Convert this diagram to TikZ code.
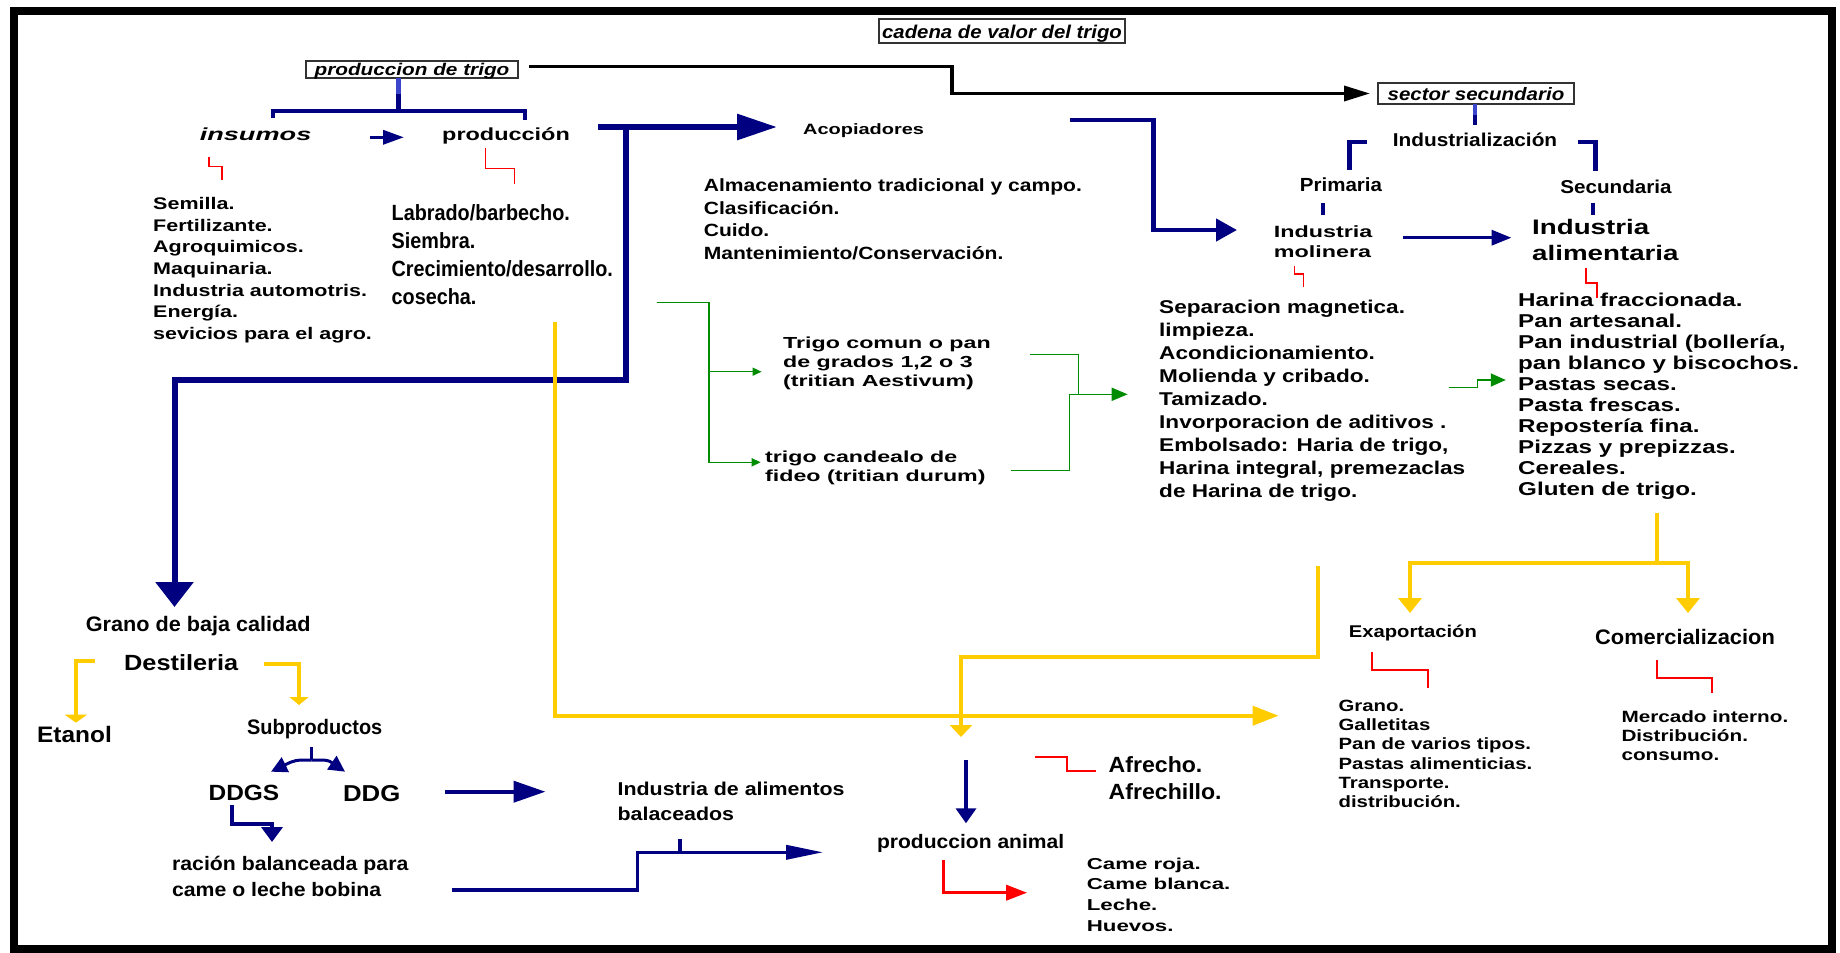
\documentclass[tikz,border=0pt]{standalone}
\usepackage{fontspec}
\setmainfont{Liberation Sans}
\usetikzlibrary{arrows.meta}
\definecolor{nv}{RGB}{0,0,128}
\definecolor{nvl}{RGB}{60,70,205}
\definecolor{yl}{RGB}{255,204,0}
\definecolor{gr}{RGB}{0,140,0}
\definecolor{rd}{RGB}{255,0,0}
% size, baselineskip, horizontal stretch
\newcommand\fz[3]{\fontsize{#1pt}{#2pt}\selectfont\addfontfeatures{FakeStretch=#3}}
% left aligned lines with a fixed baseline distance; baseline = first line
\newcommand\stk[2]{\vtop{\baselineskip=#1pt\lineskiplimit=-100pt\lineskip=0pt\halign{##\hfil\cr#2\crcr}}}
\tikzset{
  lbl/.style={inner sep=0pt, anchor=base west},
  lblc/.style={inner sep=0pt, anchor=base},
  tbox/.style={draw=black!80, line width=1.2pt, inner sep=0pt},
  tip/.style 2 args={-{Triangle[length=#1pt,width=#2pt]}},
  blk/.style={draw=black, line width=3.5pt},
  blu/.style={draw=nv, line width=#1pt},
  ylw/.style={draw=yl, line width=4pt},
  grn/.style={draw=gr, line width=1.5pt},
  red/.style={draw=rd, line width=#1pt},
}
\begin{document}
\begin{tikzpicture}[x=1pt,y=-1pt]
\useasboundingbox (0,0) rectangle (1840,953);
\draw[line width=8pt] (14,11) rectangle (1832,949);

% ---------- boxed titles ----------
\node[tbox, minimum width=246pt, minimum height=24pt, text height=17pt, text depth=2.5pt,
      font=\bfseries\itshape\fz{18.5}{22}{1.1}] (cadena) at (1002,31) {cadena de valor del trigo};
\node[tbox, minimum width=212pt, minimum height=17pt, text height=14.5pt, text depth=2.5pt,
      font=\bfseries\itshape\fz{17}{20}{1.22}] (prod) at (412,69.5) {produccion de trigo};
\node[tbox, minimum width=196pt, minimum height=21pt, text height=15.5pt, text depth=2.5pt,
      font=\bfseries\itshape\fz{18}{21}{1.14}] (sector) at (1476,93.5) {sector secundario};

% ---------- primary production ----------
\node[lbl, font=\bfseries\itshape\fz{17.5}{20}{1.55}] (insumos) at (199.6,140) {insumos};
\node[lbl, font=\bfseries\fz{17.5}{20}{1.34}] (produc) at (442,140) {producción};
\node[lbl, font=\bfseries\fz{16.8}{21.7}{1.28}] (inslist) at (153,209.3)
  {\stk{21.7}{Semilla.\cr Fertilizante.\cr Agroquimicos.\cr Maquinaria.\cr Industria automotris.\cr Energía.\cr sevicios para el agro.}};
\node[lbl, font=\bfseries\fz{22}{27.8}{0.9}] (prodlist) at (391.5,220.7)
  {\stk{27.8}{Labrado/barbecho.\cr Siembra.\cr Crecimiento/desarrollo.\cr cosecha.}};

% ---------- storage ----------
\node[lbl, font=\bfseries\fz{15}{18}{1.33}] (acop) at (803,134) {Acopiadores};
\node[lbl, font=\bfseries\fz{17.7}{22.5}{1.19}] (acoplist) at (703.6,191.7)
  {\stk{22.5}{Almacenamiento tradicional y campo.\cr Clasificación.\cr Cuido.\cr Mantenimiento/Conservación.}};
\node[lbl, font=\bfseries\fz{16}{19}{1.45}] (comun) at (783,348.3)
  {\stk{19}{Trigo comun o pan\cr de grados 1,2 o 3\cr (tritian Aestivum)}};
\node[lbl, font=\bfseries\fz{16}{19}{1.45}] (candeal) at (765,462.7)
  {\stk{19}{trigo candealo de\cr fideo (tritian durum)}};

% ---------- industry ----------
\node[lblc, font=\bfseries\fz{18.6}{22}{1.12}] (indus) at (1475,146.7) {Industrialización};
\node[lblc, font=\bfseries\fz{19}{22}{1.08}] (prim) at (1341,191.7) {Primaria};
\node[lblc, font=\bfseries\fz{18.6}{22}{1.11}] (secu) at (1616,193) {Secundaria};
\node[lbl, font=\bfseries\fz{16.3}{20.3}{1.43}] (molin) at (1273.7,237)
  {\stk{20.3}{Industria\cr molinera}};
\node[lbl, font=\bfseries\fz{21}{25.7}{1.32}] (alim) at (1532,234.3)
  {\stk{25.7}{Industria\cr alimentaria}};
\node[lbl, font=\bfseries\fz{18.5}{23}{1.22}] (mollist) at (1159,313)
  {\stk{23}{Separacion magnetica.\cr limpieza.\cr Acondicionamiento.\cr Molienda y cribado.\cr Tamizado.\cr Invorporacion de aditivos .\cr Embolsado: Haria de trigo,\cr Harina integral, premezaclas\cr de Harina de trigo.}};
\node[lbl, font=\bfseries\fz{18.6}{21}{1.3}] (alimlist) at (1518,306.7)
  {\stk{21}{Harina fraccionada.\cr Pan artesanal.\cr Pan industrial (bollería,\cr pan blanco y biscochos.\cr Pastas secas.\cr Pasta frescas.\cr Repostería fina.\cr Pizzas y prepizzas.\cr Cereales.\cr Gluten de trigo.}};

% ---------- markets ----------
\node[lbl, font=\bfseries\fz{17}{20}{1.19}] (expo) at (1348.6,637.3) {Exaportación};
\node[lbl, font=\bfseries\fz{21}{24}{1.04}] (comer) at (1595,644.3) {Comercializacion};
\node[lbl, font=\bfseries\fz{16.3}{19.1}{1.25}] (expolist) at (1338.4,711.7)
  {\stk{19.1}{Grano.\cr Galletitas\cr Pan de varios tipos.\cr Pastas alimenticias.\cr Transporte.\cr distribución.}};
\node[lbl, font=\bfseries\fz{16.3}{19}{1.27}] (comerlist) at (1621.3,722.7)
  {\stk{19}{Mercado interno.\cr Distribución.\cr consumo.}};

% ---------- low quality grain ----------
\node[lbl, font=\bfseries\fz{21}{24}{1.03}] (grano) at (85.7,631.7) {Grano de baja calidad};
\node[lbl, font=\bfseries\fz{22}{25}{1.15}] (desti) at (124,670.7) {Destileria};
\node[lbl, font=\bfseries\fz{22.4}{25}{1.09}] (etanol) at (37,742.7) {Etanol};
\node[lbl, font=\bfseries\fz{21}{24}{0.95}] (subp) at (246.9,734.3) {Subproductos};
\node[lbl, font=\bfseries\fz{22}{25}{1.11}] (ddgs) at (208.5,800) {DDGS};
\node[lbl, font=\bfseries\fz{23}{26}{1.12}] (ddg) at (342.9,801.7) {DDG};
\node[lbl, font=\bfseries\fz{19.5}{26}{1.09}] (racion) at (171.9,870.7)
  {\stk{26}{ración balanceada para\cr came o leche bobina}};
\node[lbl, font=\bfseries\fz{18.6}{25}{1.15}] (balac) at (617.4,795)
  {\stk{25}{Industria de alimentos\cr balaceados}};
\node[lbl, font=\bfseries\fz{19.5}{23}{1.08}] (animal) at (876.8,848.3) {produccion animal};
\node[lbl, font=\bfseries\fz{22}{27}{1.05}] (afrecho) at (1108.5,772.3)
  {\stk{27}{Afrecho.\cr Afrechillo.}};
\node[lbl, font=\bfseries\fz{15.8}{20.6}{1.41}] (carne) at (1086.6,869.3)
  {\stk{20.6}{Came roja.\cr Came blanca.\cr Leche.\cr Huevos.}};

% ---------- connector end points ----------
\coordinate (kA) at (529,66.7);   \coordinate (kB) at (952,93.5);   \coordinate (kC) at (1370,93.5);
\coordinate (pS) at (398.7,78);   \coordinate (pM) at (398.7,94);   \coordinate (pT) at (398.7,111);
\coordinate (bL) at (272.8,118.3); \coordinate (bR) at (524.6,120);
\coordinate (iA) at (369.6,137.3); \coordinate (iB) at (404,137.3);
\coordinate (gA) at (598,127);   \coordinate (gB) at (777,127);   \coordinate (gC) at (626,127);
\coordinate (gD) at (174.5,379.5); \coordinate (gE) at (174.5,607);
\coordinate (aA) at (1069.6,120); \coordinate (aB) at (1153.6,230); \coordinate (aC) at (1237,230);
\coordinate (sS) at (1475,104);  \coordinate (sM) at (1475,115);  \coordinate (sT) at (1475,125);
\coordinate (cL1) at (1367.4,142); \coordinate (cL2) at (1349.7,170);
\coordinate (cR1) at (1578,142);   \coordinate (cR2) at (1595.4,171);
\coordinate (tP1) at (1322.6,203); \coordinate (tP2) at (1322.6,215);
\coordinate (tS1) at (1593,203);   \coordinate (tS2) at (1593,215);
\coordinate (mA) at (1403,237.7);  \coordinate (mB) at (1511.5,237.7);
\coordinate (f0) at (311.6,747.3); \coordinate (f1) at (311.6,760);
\coordinate (fL) at (271,771.7);   \coordinate (fR) at (345,771.7);
\coordinate (d1) at (445,791.7);   \coordinate (d2) at (545.5,791.7);
\coordinate (e1) at (231.7,805);   \coordinate (e2) at (272,824);   \coordinate (e3) at (272,842);
\coordinate (h1) at (451.8,890);   \coordinate (h2) at (637.5,852.3); \coordinate (h3) at (823.2,852.3);
\coordinate (t1) at (680,839);     \coordinate (t2) at (680,852.3);
\coordinate (m1) at (966,760);     \coordinate (m2) at (966,823.3);

% ---------- black ----------
\draw[blk, tip={26}{15}] (kA) -| (kB) -- (kC);

% ---------- navy ----------
\draw[blu=4.5, draw=nvl] (pS) -- (pM);
\draw[blu=4.5] (pM) -- (pT);
\draw[blu=4] (bL) |- (pT) -| (bR);
\draw[blu=3.5, tip={21}{14}] (iA) -- (iB);
\draw[blu=6, tip={40}{25}] (gA) -- (gB);
\draw[blu=6, tip={25}{37}] (gC) |- (gD) -- (gE);
\draw[blu=4.5, tip={21}{22}] (aA) -| (aB) -- (aC);
\draw[blu=4, draw=nvl] (sS) -- (sM);
\draw[blu=4] (sM) -- (sT);
\draw[blu=4.5] (cL1) -| (cL2);
\draw[blu=4.5] (cR1) -| (cR2);
\draw[blu=4] (tP1) -- (tP2);
\draw[blu=4] (tS1) -- (tS2);
\draw[blu=3.5, tip={20}{15}] (mA) -- (mB);
\draw[blu=3] (f0) -- (f1);
\draw[blu=3, tip={16}{16}] (f1) .. controls (295,760) .. (fL);
\draw[blu=3, tip={16}{16}] (f1) .. controls (328,760) .. (fR);
\draw[blu=4, tip={32}{21}] (d1) -- (d2);
\draw[blu=4, tip={15}{21}] (e1) |- (e2) -- (e3);
\draw[blu=3.5, tip={37}{14}] (h1) -| (h2) -- (h3);
\draw[blu=4] (t1) -- (t2);
\draw[blu=3.5, tip={15}{20}] (m1) -- (m2);

% ---------- green ----------
\draw[grn, tip={9}{8}] (656.7,302.7) -| (708.9,462.3) -- (760.7,462.3);
\draw[grn, tip={9}{8}] (708.9,371.7) -- (761.6,371.7);
\draw[grn] (1030,354.3) -| (1078.6,394.3);
\draw[grn, tip={16}{13}] (1010.7,470.7) -| (1069.6,394.3) -- (1127.7,394.3);
\draw[grn, tip={15}{13}] (1449.4,387.3) -| (1477.6,380) -- (1505.8,380);

% ---------- yellow ----------
\draw[ylw, tip={26}{19}] (555,321.7) |- (1278.6,715.7);
\draw[ylw, tip={12}{22}] (1318.3,566) |- (961,656.7) -- (961,737);
\draw[ylw] (1657,513) -- (1657,563);
\draw[ylw, {Triangle[length=15pt,width=23pt]}-{Triangle[length=15pt,width=23pt]}]
  (1410,613) |- (1657,563) -| (1688,613);
\draw[ylw, tip={8}{22}] (94.6,660.7) -| (75.9,722.7);
\draw[ylw, tip={8}{19}] (264.3,664) -| (299,705);

% ---------- red ----------
\draw[red=1.2] (209,156.7) |- (221.9,166.7) -- (221.9,180);
\draw[red=1.3] (485.7,148.3) |- (514.7,168.3) -- (514.7,184.3);
\draw[red=1.2] (1294.4,266) |- (1303.8,274) -- (1303.8,286.7);
\draw[red=2] (1586,268) |- (1597,283) -- (1597,298);
\draw[red=2] (1372,651.7) |- (1428,670) -- (1428,688.3);
\draw[red=2] (1657,660) |- (1712,677.7) -- (1712,693.3);
\draw[red=2] (1034.8,756.7) -| (1067.4,770.7) -- (1096.4,770.7);
\draw[red=3.5, tip={21}{15}] (943.3,860) |- (1027.2,892.7);
\end{tikzpicture}
\end{document}
